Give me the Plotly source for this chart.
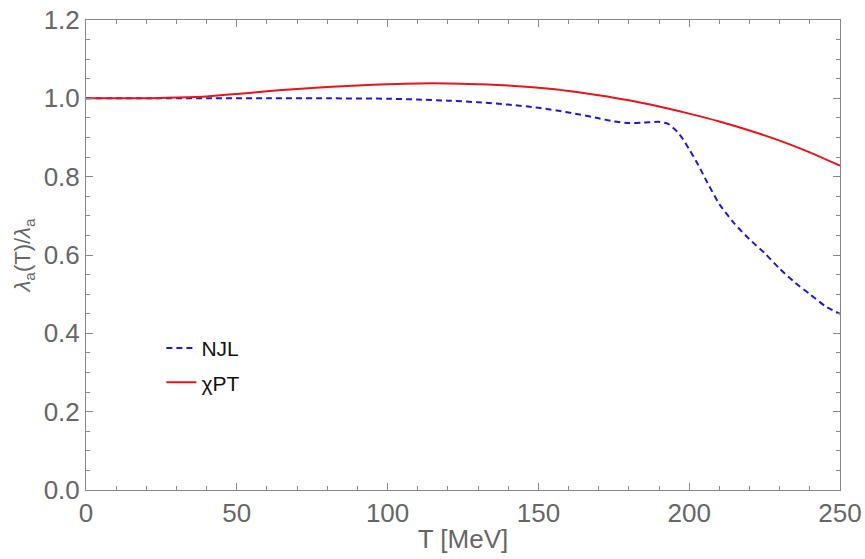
import plotly.graph_objects as go

njl_T = [0, 20, 40, 60, 80, 100, 110, 120, 130, 140, 150, 160, 170, 175, 180, 185, 190, 193, 196, 198,
         200, 203, 206, 210, 215, 220, 225, 230, 235, 240, 245, 250]
njl_v = [1.0, 1.0, 1.0, 1.0, 1.0, 0.999, 0.997, 0.994, 0.99, 0.984, 0.976, 0.964, 0.949, 0.941, 0.937,
         0.938, 0.94, 0.935, 0.915, 0.895, 0.87, 0.83, 0.785, 0.73, 0.68, 0.64, 0.605, 0.565, 0.53,
         0.50, 0.47, 0.45]
chi_T = [0, 10, 20, 30, 40, 50, 60, 70, 80, 90, 100, 110, 120, 130, 140, 150, 160, 170, 180, 190,
         200, 210, 220, 230, 240, 250]
chi_v = [1.0, 1.0, 1.0, 1.002, 1.005, 1.011, 1.018, 1.024, 1.029, 1.033, 1.036, 1.038, 1.038, 1.036,
         1.033, 1.027, 1.019, 1.008, 0.995, 0.979, 0.961, 0.941, 0.918, 0.892, 0.862, 0.828]

fig = go.Figure()
fig.add_trace(go.Scatter(x=njl_T, y=njl_v, mode="lines", name="NJL", legendgroup="a",
                         line=dict(color="#1a1ad6", width=2, dash="6px,4px", shape="spline", smoothing=0.6)))
fig.add_trace(go.Scatter(x=chi_T, y=chi_v, mode="lines", name="χPT", legendgroup="b",
                         line=dict(color="#e8141c", width=2, shape="spline", smoothing=0.8)))

tickfont = dict(family="Liberation Sans, Arial", size=26, color="#666666")
axis_common = dict(
    showline=True, linecolor="#888888", linewidth=1, mirror="allticks",
    ticks="inside", ticklen=7, tickcolor="#888888", showgrid=False, zeroline=False,
    tickfont=tickfont,
)
fig.update_xaxes(range=[0, 250], tickvals=[0, 50, 100, 150, 200, 250],
                 minor=dict(ticks="inside", ticklen=4, dtick=10, tickcolor="#888888", showgrid=False),
                 title=dict(text="T [MeV]", font=tickfont, standoff=2), automargin=False,
                 **axis_common)
fig.update_yaxes(range=[0, 1.2], tickvals=[0, 0.2, 0.4, 0.6, 0.8, 1.0, 1.2],
                 ticktext=["0.0", "0.2", "0.4", "0.6", "0.8", "1.0", "1.2"],
                 minor=dict(ticks="inside", ticklen=4, dtick=0.05, tickcolor="#888888", showgrid=False),
                 title=dict(text="<i>λ</i><sub>a</sub>(T)/<i>λ</i><sub>a</sub>",
                            font=dict(family="Liberation Sans, Arial", size=22, color="#666666"), standoff=6),
                 automargin=False, **axis_common)

fig.update_layout(
    width=865, height=559,
    margin=dict(l=86, r=25, t=20, b=69),
    plot_bgcolor="white", paper_bgcolor="white",
    legend=dict(x=0.1, y=0.345, xanchor="left", yanchor="top",
                font=dict(family="Liberation Sans, Arial", size=21, color="#111111"),
                bgcolor="rgba(0,0,0,0)", tracegroupgap=4),
)
fig.write_html("out.html")
